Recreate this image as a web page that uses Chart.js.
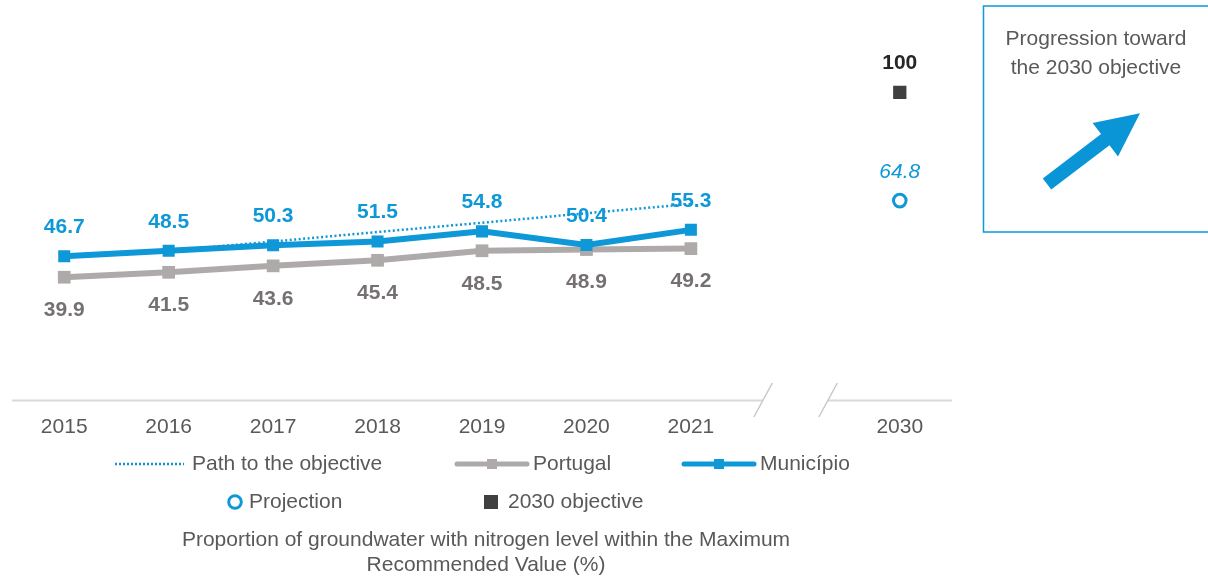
<!DOCTYPE html>
<html>
<head>
<meta charset="utf-8">
<script src="https://cdn.jsdelivr.net/npm/chart.js@4/dist/chart.umd.min.js"></script>
<style>
  html, body { margin: 0; padding: 0; background: #ffffff; }
  #wrap { width: 1208px; height: 577px; position: relative; }
</style>
</head>
<body>
<div id="wrap"><canvas id="c" width="1208" height="577"></canvas></div>
<script>
// ---- data ----
const categories = ['2015', '2016', '2017', '2018', '2019', '2020', '2021', '', '2030'];
const municipio = [46.7, 48.5, 50.3, 51.5, 54.8, 50.4, 55.3, null, null];
const portugal = [39.9, 41.5, 43.6, 45.4, 48.5, 48.9, 49.2, null, null];
const pathToObjective = [null, 48.5, 51.5, 54.6, 57.6, 60.7, 63.7, null, null];
const projection = [null, null, null, null, null, null, null, null, 64.8];
const objective2030 = [null, null, null, null, null, null, null, null, 100];
const titleLines = ['Proportion of groundwater with nitrogen level within the Maximum', 'Recommended Value (%)'];
const boxLines = ['Progression toward', 'the 2030 objective'];

const BLUE = '#0E98D8';
const GRAY = '#AEAAAA';
const GRAYTXT = '#767171';
const TXT = '#595959';
const DARK = '#404040';
const FONT = '"Liberation Sans", Arial, sans-serif';

const extras = {
  id: 'extras',
  afterDatasetsDraw(chart) {
    const ctx = chart.ctx;
    const xs = chart.scales.x;
    const ca = chart.chartArea;
    ctx.save();
    // axis line with break
    const b1 = (xs.getPixelForValue(6) + xs.getPixelForValue(8)) / 2 - 32.5;
    const b2 = b1 + 65;
    const yA = ca.bottom + 0.5;
    ctx.strokeStyle = '#D9D9D9';
    ctx.lineWidth = 2;
    ctx.beginPath();
    ctx.moveTo(xs.left, yA); ctx.lineTo(b1, yA);
    ctx.moveTo(b2, yA); ctx.lineTo(xs.right, yA);
    ctx.stroke();
    ctx.strokeStyle = '#C8C8C8';
    ctx.lineWidth = 1.5;
    ctx.beginPath();
    [b1, b2].forEach(bx => {
      ctx.moveTo(bx + 9.5, yA - 17.5);
      ctx.lineTo(bx - 9, yA + 16.5);
    });
    ctx.stroke();

    // data labels
    const drawLabels = (idx, color, font, dy) => {
      const meta = chart.getDatasetMeta(idx);
      const data = chart.data.datasets[idx].data;
      ctx.fillStyle = color;
      ctx.font = font;
      ctx.textAlign = 'center';
      ctx.textBaseline = 'middle';
      meta.data.forEach((pt, i) => {
        if (data[i] === null || data[i] === undefined) return;
        ctx.fillText(String(data[i].toFixed(1)).replace(/\.0$/, ''), pt.x, pt.y + dy);
      });
    };
    drawLabels(1, GRAYTXT, 'bold 21px ' + FONT, 33);
    drawLabels(2, BLUE, 'bold 21px ' + FONT, -29);
    drawLabels(3, BLUE, 'italic 21px ' + FONT, -28);
    drawLabels(4, '#262626', 'bold 21px ' + FONT, -29);

    // legend
    ctx.font = '21px ' + FONT;
    ctx.fillStyle = TXT;
    ctx.textAlign = 'left';
    ctx.textBaseline = 'middle';
    const r1 = 464, r2 = 502;
    // path
    ctx.strokeStyle = BLUE; ctx.lineWidth = 2.5; ctx.setLineDash([2, 2]);
    ctx.beginPath(); ctx.moveTo(115, r1); ctx.lineTo(184, r1); ctx.stroke();
    ctx.setLineDash([]);
    ctx.fillText('Path to the objective', 192, r1);
    // portugal
    ctx.strokeStyle = GRAY; ctx.lineWidth = 5; ctx.lineCap = 'round';
    ctx.beginPath(); ctx.moveTo(457, r1); ctx.lineTo(527, r1); ctx.stroke();
    ctx.fillStyle = GRAY; ctx.fillRect(487, r1 - 5, 10, 10);
    ctx.fillStyle = TXT; ctx.fillText('Portugal', 533, r1);
    // municipio
    ctx.strokeStyle = BLUE;
    ctx.beginPath(); ctx.moveTo(684, r1); ctx.lineTo(754, r1); ctx.stroke();
    ctx.fillStyle = BLUE; ctx.fillRect(714, r1 - 5, 10, 10);
    ctx.fillStyle = TXT; ctx.fillText('Município', 760, r1);
    // projection
    ctx.strokeStyle = BLUE; ctx.lineWidth = 3;
    ctx.beginPath(); ctx.arc(235, r2, 6.3, 0, Math.PI * 2); ctx.stroke();
    ctx.fillStyle = TXT; ctx.fillText('Projection', 249, r2);
    // objective
    ctx.fillStyle = DARK; ctx.fillRect(484, r2 - 7, 14, 14);
    ctx.fillStyle = TXT; ctx.fillText('2030 objective', 508, r2);

    // title
    ctx.font = '21px ' + FONT;
    ctx.textAlign = 'center';
    ctx.fillText(titleLines[0], 486, 540);
    ctx.fillText(titleLines[1], 486, 565);

    // right box
    ctx.strokeStyle = BLUE; ctx.lineWidth = 1.5;
    ctx.strokeRect(983.5, 6, 240, 226);
    ctx.font = '21px ' + FONT;
    ctx.fillStyle = TXT;
    ctx.fillText(boxLines[0], 1096, 39);
    ctx.fillText(boxLines[1], 1096, 68);
    // arrow
    const T = [1047, 184], P = [1140, 113.3];
    const dx = P[0] - T[0], dy = P[1] - T[1];
    const L = Math.hypot(dx, dy);
    const u = [dx / L, dy / L], n = [-u[1], u[0]];
    const B = [P[0] - 43.6 * u[0], P[1] - 43.6 * u[1]];
    const pt = (base, k) => [base[0] + k * n[0], base[1] + k * n[1]];
    const poly = [pt(T, 7), pt(B, 7), pt(B, 21), P, pt(B, -21), pt(B, -7), pt(T, -7)];
    ctx.fillStyle = '#0A96D6';
    ctx.beginPath();
    poly.forEach((p, i) => i ? ctx.lineTo(p[0], p[1]) : ctx.moveTo(p[0], p[1]));
    ctx.closePath(); ctx.fill();
    ctx.restore();
  }
};

new Chart(document.getElementById('c'), {
  type: 'line',
  data: {
    labels: categories,
    datasets: [
      { label: 'Path to the objective', data: pathToObjective, borderColor: BLUE, borderWidth: 2.5,
        borderDash: [2, 2.5], pointRadius: 0, fill: false, spanGaps: false, order: 5 },
      { label: 'Portugal', data: portugal, borderColor: GRAY, backgroundColor: GRAY, borderWidth: 6,
        pointStyle: 'rect', pointRadius: 9, pointBorderWidth: 0, fill: false, order: 4 },
      { label: 'Município', data: municipio, borderColor: BLUE, backgroundColor: BLUE, borderWidth: 6,
        pointStyle: 'rect', pointRadius: 8.5, pointBorderWidth: 0, fill: false, order: 3 },
      { label: 'Projection', data: projection, showLine: false, borderColor: BLUE, backgroundColor: '#ffffff',
        pointStyle: 'circle', pointRadius: 6.3, pointBorderWidth: 3, order: 2 },
      { label: '2030 objective', data: objective2030, showLine: false, borderColor: DARK, backgroundColor: DARK,
        pointStyle: 'rect', pointRadius: 9.4, pointBorderWidth: 0, order: 1 }
    ]
  },
  options: {
    responsive: false,
    animation: false,
    devicePixelRatio: 1,
    layout: { autoPadding: false, padding: { left: 12, right: 256, top: 0, bottom: 0 } },
    plugins: { legend: { display: false }, tooltip: { enabled: false } },
    scales: {
      x: {
        type: 'category',
        offset: true,
        grid: { display: false, drawTicks: false },
        border: { display: false },
        ticks: { color: TXT, font: { family: FONT, size: 21 }, padding: 15, autoSkip: false, maxRotation: 0 },
        afterFit: s => { s.height = 177; }
      },
      y: { display: false, min: 0, max: 130 }
    }
  },
  plugins: [extras]
});
</script>
</body>
</html>
